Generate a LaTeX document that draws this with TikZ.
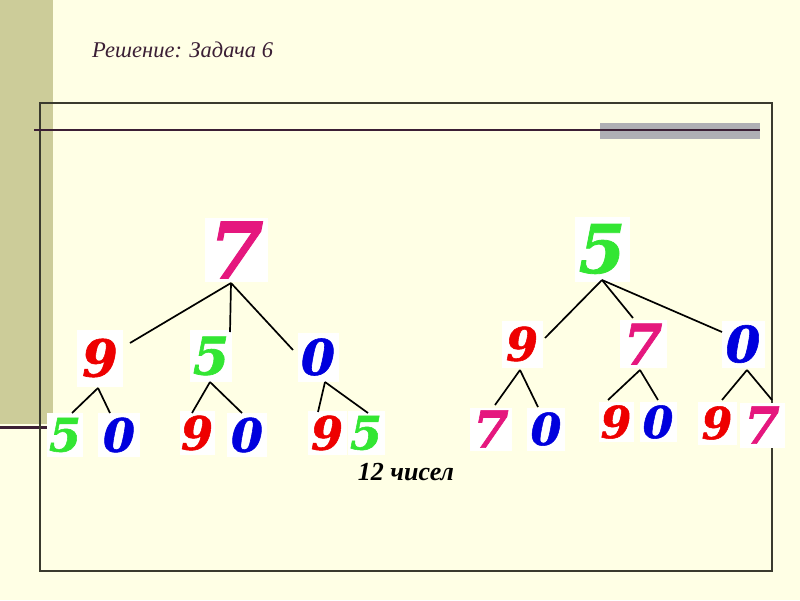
\documentclass[tikz,border=0pt]{standalone}
\usepackage{fontspec}
\setmainfont{Liberation Serif}
\newfontfamily\digfont{DejaVu Serif}[BoldItalicFeatures={FakeBold=1.2}]
\definecolor{bg}{HTML}{FFFFE5}
\definecolor{khaki}{HTML}{CCCC99}
\definecolor{framec}{HTML}{3A3A2E}
\definecolor{rulec}{HTML}{3C1F35}
\definecolor{barc}{HTML}{AFAFB4}
\definecolor{titlec}{HTML}{3B1F35}
\definecolor{dpink}{HTML}{E5177E}
\definecolor{dred}{HTML}{EE0000}
\definecolor{dgreen}{HTML}{33E633}
\definecolor{dblue}{HTML}{0000DD}
\tikzset{
  dg/.style={fill=white, inner sep=0pt, font=\digfont\bfseries\itshape\fontsize{#1}{#1}\selectfont},
  edge/.style={draw=black, line width=1.7pt},
}
\begin{document}
\begin{tikzpicture}[x=1pt,y=-1pt]
\useasboundingbox (0,0) rectangle (800,600);
\fill[bg] (0,0) rectangle (800,600);
\fill[khaki] (0,0) rectangle (53,424);
\draw[rulec, line width=3pt] (0,427) -- (47,427);
\draw[framec, line width=2pt] (40,103) rectangle (772,571);
\fill[barc] (600,123) rectangle (760,139);
\draw[rulec, line width=2pt] (34,130) -- (760,130);
\node[titlec, font=\itshape\fontsize{22.5}{22.5}\selectfont, anchor=base west, inner sep=0pt] (title) at (92,57) {Решение: Задача 6};
% tree 1
\node[dg=78, text=dpink, minimum width=63pt, minimum height=64pt] (r1) at (236.5,250) {7};
\node[dg=51, text=dred, minimum width=46pt, minimum height=57pt] (a1) at (100,358) {9};
\node[dg=52, text=dgreen, minimum width=42pt, minimum height=52pt] (a2) at (211,356) {5};
\node[dg=49, text=dblue, minimum width=41pt, minimum height=49pt] (a3) at (318,357) {0};
\node[dg=46, text=dgreen, minimum width=36pt, minimum height=44pt] (b1) at (65,435) {5};
\node[dg=46, text=dblue, minimum width=42pt, minimum height=44pt] (b2) at (119,435) {0};
\node[dg=46, text=dred, minimum width=35pt, minimum height=44pt] (b3) at (197,433) {9};
\node[dg=46, text=dblue, minimum width=40pt, minimum height=44pt] (b4) at (247,435) {0};
\node[dg=46, text=dred, minimum width=39pt, minimum height=44pt] (b5) at (327,433) {9};
\node[dg=46, text=dgreen, minimum width=37pt, minimum height=44pt] (b6) at (366,433) {5};
% tree 2
\node[dg=67, text=dgreen, minimum width=55pt, minimum height=65pt] (r2) at (602,249) {5};
\node[dg=46, text=dred, minimum width=41pt, minimum height=47pt] (c1) at (522,344) {9};
\node[dg=56, text=dpink, minimum width=47pt, minimum height=48pt] (c2) at (643,344) {7};
\node[dg=50, text=dblue, minimum width=43pt, minimum height=47pt] (c3) at (743,344) {0};
\node[dg=51, text=dpink, minimum width=42pt, minimum height=43pt] (d1) at (491,429) {7};
\node[dg=44, text=dblue, minimum width=38pt, minimum height=43pt] (d2) at (546,429) {0};
\node[dg=44, text=dred, minimum width=35pt, minimum height=40pt] (d3) at (616,422) {9};
\node[dg=44, text=dblue, minimum width=37pt, minimum height=40pt] (d4) at (658,422) {0};
\node[dg=44, text=dred, minimum width=39pt, minimum height=43pt] (d5) at (717,423) {9};
\node[dg=51, text=dpink, minimum width=45pt, minimum height=45pt] (d6) at (762,425) {7};
% edges tree 1
\draw[edge] ([shift={(-5.5,33)}]r1.center) -- ([shift={(30,-15)}]a1.center);
\draw[edge] ([shift={(-5.5,33)}]r1.center) -- ([shift={(19,-24)}]a2.center);
\draw[edge] ([shift={(-5.5,33)}]r1.center) -- ([shift={(-25,-7)}]a3.center);
\draw[edge] ([shift={(-2,30)}]a1.center) -- ([shift={(7,-22)}]b1.center);
\draw[edge] ([shift={(-2,30)}]a1.center) -- ([shift={(-9,-22)}]b2.center);
\draw[edge] ([shift={(-1,26)}]a2.center) -- ([shift={(-5,-20)}]b3.center);
\draw[edge] ([shift={(-1,26)}]a2.center) -- ([shift={(-5,-22)}]b4.center);
\draw[edge] ([shift={(7,25)}]a3.center) -- ([shift={(-9,-21)}]b5.center);
\draw[edge] ([shift={(7,25)}]a3.center) -- ([shift={(2,-20)}]b6.center);
% edges tree 2
\draw[edge] ([shift={(0,31)}]r2.center) -- ([shift={(23,-6)}]c1.center);
\draw[edge] ([shift={(0,31)}]r2.center) -- ([shift={(-10,-26)}]c2.center);
\draw[edge] ([shift={(0,31)}]r2.center) -- ([shift={(-21,-12)}]c3.center);
\draw[edge] ([shift={(-2,26)}]c1.center) -- ([shift={(4,-24)}]d1.center);
\draw[edge] ([shift={(-2,26)}]c1.center) -- ([shift={(-8,-22)}]d2.center);
\draw[edge] ([shift={(-3,26)}]c2.center) -- ([shift={(-8,-22)}]d3.center);
\draw[edge] ([shift={(-3,26)}]c2.center) -- ([shift={(0,-22)}]d4.center);
\draw[edge] ([shift={(4,26)}]c3.center) -- ([shift={(5,-23)}]d5.center);
\draw[edge] ([shift={(4,26)}]c3.center) -- ([shift={(10,-25)}]d6.center);
\node[font=\bfseries\itshape\fontsize{26}{26}\selectfont, anchor=base] (count) at (406,480) {12 чисел};
\end{tikzpicture}
\end{document}
